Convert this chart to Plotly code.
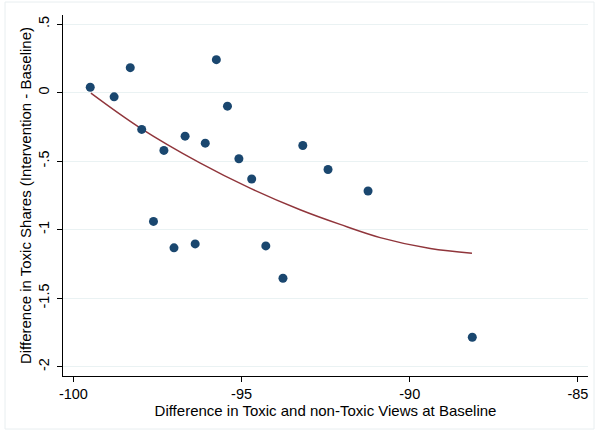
import plotly.graph_objects as go

# Data
x_vals = [-99.50, -98.79, -98.31, -97.97, -97.31, -96.68, -97.62, -97.01, -96.38,
          -96.08, -95.75, -95.42, -95.08, -94.70, -94.28, -93.77, -93.18, -92.43,
          -91.24, -88.14]
y_vals = [0.039, -0.031, 0.182, -0.269, -0.422, -0.318, -0.940, -1.133, -1.104,
          -0.369, 0.240, -0.099, -0.483, -0.631, -1.119, -1.355, -0.386, -0.561,
          -0.718, -1.785]

# Fitted curve
fit_x = [-99.48, -98.02, -96.24, -94.75, -93.26, -92.07, -90.88, -89.39, -88.15]
fit_y = [-0.004, -0.257, -0.513, -0.697, -0.855, -0.962, -1.058, -1.138, -1.172]

x_ticks = [-100, -95, -90, -85]
x_tick_labels = ["-100", "-95", "-90", "-85"]
y_ticks = [0.5, 0, -0.5, -1, -1.5, -2]
y_tick_labels = [".5", "0", "-.5", "-1", "-1.5", "-2"]

font = "Liberation Sans, Arial, Helvetica, sans-serif"

fig = go.Figure()
fig.add_trace(go.Scatter(x=fit_x, y=fit_y, mode="lines", line_shape="spline",
                         line=dict(color="#90353b", width=1.4),
                         showlegend=False))
fig.add_trace(go.Scatter(x=x_vals, y=y_vals, mode="markers",
                         marker=dict(color="#1a476f", size=9, line=dict(width=0)),
                         showlegend=False))

# faint outer border of the graph region
fig.add_shape(type="rect", xref="paper", yref="paper",
              x0=-58/525, x1=1.0 + 6/525, y0=-53/361, y1=1.0 + 13/361,
              line=dict(color="#e8eef0", width=1), layer="below")

fig.update_layout(
    width=597, height=432,
    margin=dict(l=63, r=9, t=15, b=56),
    paper_bgcolor="white", plot_bgcolor="white",
    font=dict(family=font, size=14, color="#000"),
    xaxis=dict(range=[-100.31, -84.7], tickvals=x_ticks, ticktext=x_tick_labels,
               automargin=False,
               showgrid=False, zeroline=False, showline=True, linecolor="#000",
               linewidth=1, ticks="outside", ticklen=5, tickcolor="#000",
               tickfont=dict(size=14.5),
               title=dict(text="Difference in Toxic and non-Toxic Views at Baseline",
                          font=dict(size=15), standoff=1)),
    yaxis=dict(range=[-2.068, 0.566], tickvals=y_ticks, ticktext=y_tick_labels,
               automargin=False,
               showgrid=True, gridcolor="#eaf2f3", gridwidth=1, zeroline=False,
               showline=True, linecolor="#000", linewidth=1, ticks="outside",
               ticklen=5, tickcolor="#000", tickangle=-90, tickfont=dict(size=14.5),
               ticklabelstandoff=2,
               title=dict(text="Difference in Toxic Shares (Intervention - Baseline)",
                          font=dict(size=15), standoff=0)),
)

fig.write_html("out.html", config={"displayModeBar": False},
               post_script="document.body.style.margin='0';document.body.style.padding='0';")
